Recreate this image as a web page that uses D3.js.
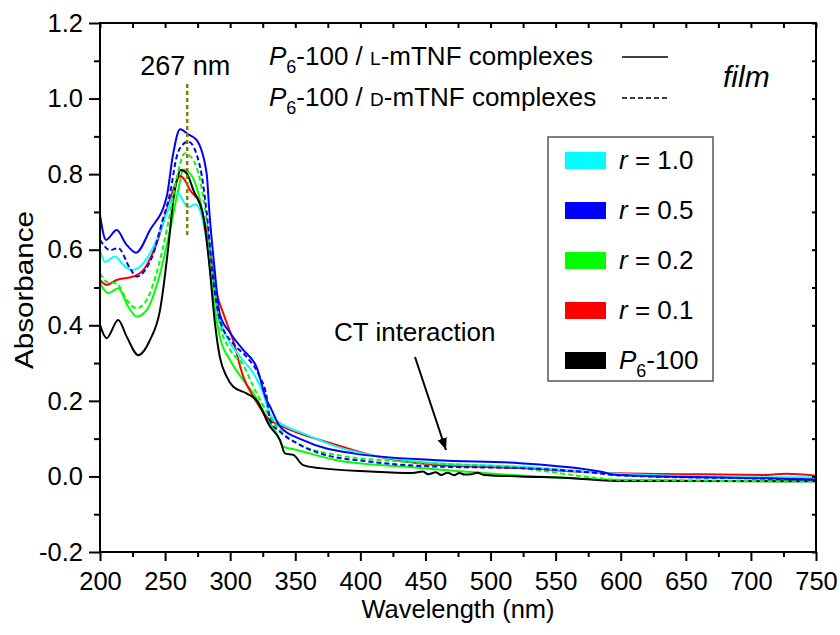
<!DOCTYPE html>
<html>
<head>
<meta charset="utf-8">
<script src="https://cdn.jsdelivr.net/npm/d3@7"></script>
<style>
  body { margin: 0; background: #fff; }
  svg { font-family: 'Liberation Sans', Arial, sans-serif; }
</style>
</head>
<body>
<div id="target"></div>
<script>
const width = 840;
const height = 635;

// data: [wavelength nm, absorbance]
const p6 = [[200,0.401],[205,0.366],[214,0.414],[220.5,0.370],[229.4,0.321],[238.4,0.361],[246.1,0.440],[252.5,0.608],[256.3,0.732],[259.5,0.790],[262,0.811],[266.6,0.802],[271.7,0.758],[279.4,0.687],[284,0.56],[288.3,0.405],[292,0.317],[297.3,0.264],[302.2,0.238],[312.5,0.220],[320.2,0.202],[330.6,0.132],[338.3,0.096],[342.1,0.061],[348.5,0.057],[356,0.030],[369,0.022],[407.5,0.013],[440,0.009],[448,0.013],[452,0.006],[458,0.011],[462,0.004],[467,0.010],[472,0.003],[476,0.009],[480,0.005],[485,0.006],[490,0.010],[495,0.004],[522.6,0.0],[560,-0.004],[597,-0.012],[650,-0.012],[750,-0.013]];
const r01 = [[200,0.520],[205.1,0.507],[212.8,0.520],[225.6,0.529],[233.3,0.546],[243.5,0.617],[253.8,0.732],[258,0.775],[261.5,0.795],[265,0.785],[269.1,0.758],[276.8,0.723],[279.4,0.687],[284,0.608],[289.2,0.493],[295.6,0.423],[302.2,0.361],[310,0.264],[317.8,0.211],[330.6,0.149],[338.3,0.135],[381.7,0.083],[407.5,0.057],[458.6,0.030],[522.6,0.022],[584,0.010],[650,0.006],[712,0.004],[727,0.007],[750,0.002]];
const r02 = [[200,0.511],[206.4,0.485],[214,0.498],[221.7,0.449],[228.2,0.423],[235.8,0.440],[244.8,0.520],[253.8,0.652],[260.2,0.760],[264,0.812],[269.1,0.802],[276.8,0.732],[281.9,0.634],[287,0.476],[292,0.370],[299.9,0.308],[310,0.255],[317.8,0.220],[330.6,0.141],[335.7,0.114],[340.8,0.079],[351.1,0.070],[381.7,0.043],[433,0.026],[507,0.006],[597,-0.009],[712,-0.012],[750,-0.013]];
const r02d = [[200,0.538],[205,0.515],[213,0.510],[220.5,0.467],[228.2,0.445],[235.8,0.467],[244.8,0.555],[253.8,0.696],[258.9,0.790],[265.3,0.855],[271.7,0.837],[276.8,0.785],[281.9,0.679],[287,0.520],[292,0.405],[299.9,0.335],[310,0.295],[317.8,0.238],[330.6,0.158],[338.3,0.123],[351.1,0.088],[381.7,0.057],[433,0.039],[522.6,0.022],[584,-0.005],[597,-0.009],[750,-0.013]];
const r05 = [[200,0.692],[204.6,0.626],[212.8,0.652],[220,0.615],[227.7,0.592],[238.4,0.652],[251.2,0.740],[256,0.850],[261.5,0.919],[268,0.905],[274.3,0.890],[281.9,0.802],[284,0.700],[288,0.550],[292,0.430],[299.9,0.380],[310,0.335],[320.2,0.290],[328,0.202],[330.6,0.185],[338.3,0.132],[356,0.096],[394.6,0.061],[458.6,0.043],[522.6,0.035],[584,0.013],[597,0.004],[712,-0.005],[750,-0.008]];
const r05d = [[200,0.626],[207.7,0.599],[214,0.604],[223,0.551],[228.2,0.529],[234.6,0.546],[241,0.590],[247.4,0.670],[253.8,0.749],[258.9,0.846],[264,0.880],[267.8,0.886],[276.8,0.820],[281.9,0.700],[287,0.520],[292,0.414],[302.2,0.352],[312.5,0.317],[322.7,0.264],[328,0.211],[330.6,0.149],[338.3,0.118],[351.1,0.088],[369,0.061],[407.5,0.039],[458.6,0.026],[522.6,0.022],[584,0.008],[597,0.003],[712,-0.006],[750,-0.009]];
const r10 = [[200,0.599],[203.8,0.568],[211.5,0.582],[217.9,0.560],[224.3,0.546],[233.3,0.564],[243.5,0.626],[251.2,0.696],[256,0.740],[260.5,0.748],[264,0.728],[267.5,0.712],[273,0.720],[276.8,0.705],[281.9,0.626],[287,0.520],[290.9,0.432],[297.3,0.370],[307.5,0.317],[317.8,0.273],[325.4,0.220],[330.6,0.163],[338.3,0.141],[356,0.114],[381.7,0.079],[407.5,0.057],[458.6,0.035],[522.6,0.026],[584,0.010],[712,-0.002],[750,-0.002]];

const xTicks = [200, 250, 300, 350, 400, 450, 500, 550, 600, 650, 700, 750];
const yTicks = [-0.2, 0.0, 0.2, 0.4, 0.6, 0.8, 1.0, 1.2];
const legendLabels = ['1.0', '0.5', '0.2', '0.1'];
const legendColors = ['#00ffff', '#0000ff', '#00ff00', '#ff0000', '#000000'];
const peakNm = 267;

const series = [
  { data: r02, color: '#00ff00', dash: null },
  { data: r01, color: '#ff0000', dash: null },
  { data: r10, color: '#00ffff', dash: null },
  { data: r05, color: '#0000ff', dash: null },
  { data: p6, color: '#000000', dash: null },
  { data: r02d, color: '#00ff00', dash: '5,3' },
  { data: r05d, color: '#0000ff', dash: '5,3' },
];

const svg = d3.select('#target').append('svg').attr('width', width).attr('height', height);

const x = d3.scaleLinear().domain([200, 750]).range([100, 816]);
const y = d3.scaleLinear().domain([-0.2, 1.2]).range([552, 23]);

const line = d3.line()
  .x((d) => x(d[0]))
  .y((d) => y(d[1]))
  .curve(d3.curveMonotoneX);

svg.append('defs').append('clipPath').attr('id', 'clip')
  .append('rect').attr('x', 100).attr('y', 23).attr('width', 716).attr('height', 529);

const plot = svg.append('g').attr('clip-path', 'url(#clip)');

series.forEach((s) => {
  plot.append('path')
    .attr('d', line(s.data))
    .attr('fill', 'none')
    .attr('stroke', s.color)
    .attr('stroke-width', 2)
    .attr('stroke-dasharray', s.dash);
});

// 267 nm marker
svg.append('line')
  .attr('x1', x(peakNm)).attr('x2', x(peakNm))
  .attr('y1', 84).attr('y2', 235)
  .attr('stroke', '#808000')
  .attr('stroke-width', 2.5)
  .attr('stroke-dasharray', '4,3');

svg.append('text')
  .attr('x', x(peakNm) - 2).attr('y', 75)
  .attr('text-anchor', 'middle')
  .attr('font-size', 27)
  .text('267 nm');

// axes
const fmt = (d) => d.toFixed(1);
const minorX = d3.range(225, 750, 50);
const minorY = d3.range(-0.1, 1.2, 0.2);

function styleAxis(g) {
  g.select('.domain').remove();
  g.selectAll('line').attr('stroke', '#000').attr('stroke-width', 2);
  g.selectAll('text').attr('font-size', 25.5).attr('fill', '#000').attr('font-family', "'Liberation Sans', Arial, sans-serif");
}

svg.append('g').attr('transform', 'translate(0,552)')
  .call(d3.axisBottom(x).tickValues(xTicks).tickFormat(d3.format('d')).tickSize(9).tickPadding(11))
  .call(styleAxis);
svg.append('g').attr('transform', 'translate(0,552)')
  .call(d3.axisBottom(x).tickValues(minorX).tickFormat('').tickSize(5))
  .call(styleAxis);
svg.append('g').attr('transform', 'translate(100,0)')
  .call(d3.axisLeft(y).tickValues(yTicks).tickFormat(fmt).tickSize(11).tickPadding(6))
  .call(styleAxis);
svg.append('g').attr('transform', 'translate(100,0)')
  .call(d3.axisLeft(y).tickValues(minorY).tickFormat('').tickSize(6))
  .call(styleAxis);
svg.append('g').attr('transform', 'translate(0,23)')
  .call(d3.axisBottom(x).tickValues(d3.range(200, 751, 25)).tickFormat('').tickSize(5))
  .call(styleAxis);
svg.append('g').attr('transform', 'translate(816,0)')
  .call(d3.axisLeft(y).tickValues(d3.range(-0.2, 1.21, 0.1)).tickFormat('').tickSize(4))
  .call(styleAxis);

svg.append('rect')
  .attr('x', 100).attr('y', 23).attr('width', 716).attr('height', 529)
  .attr('fill', 'none').attr('stroke', '#000').attr('stroke-width', 2);

svg.append('text')
  .attr('x', 458).attr('y', 618)
  .attr('text-anchor', 'middle')
  .attr('font-size', 25.5)
  .text('Wavelength (nm)');

svg.append('text')
  .attr('transform', 'translate(33,290) rotate(-90)')
  .attr('text-anchor', 'middle')
  .attr('font-size', 25.5)
  .attr('textLength', 158)
  .attr('lengthAdjust', 'spacingAndGlyphs')
  .text('Absorbance');

// top legend: line styles
[['L', null, 65], ['D', '5,3', 106]].forEach(([iso, dash, by]) => {
  const t = svg.append('text').attr('x', 269).attr('y', by).attr('font-size', 26);
  t.append('tspan').attr('font-style', 'italic').text('P');
  t.append('tspan').attr('font-size', 18).attr('dy', 8).text('6');
  t.append('tspan').attr('dy', -8).text('-100 / ');
  t.append('tspan').attr('font-size', 19).text(iso);
  t.append('tspan').text('-mTNF complexes');
  svg.append('line')
    .attr('x1', 622).attr('x2', 668)
    .attr('y1', by - 8).attr('y2', by - 8)
    .attr('stroke', '#000').attr('stroke-width', 1.5)
    .attr('stroke-dasharray', dash);
});

svg.append('text')
  .attr('x', 723).attr('y', 87)
  .attr('font-size', 30)
  .attr('font-style', 'italic')
  .text('film');

// colour legend
svg.append('rect')
  .attr('x', 548).attr('y', 137).attr('width', 165).attr('height', 244)
  .attr('fill', '#fff').attr('stroke', '#555').attr('stroke-width', 1.5);

legendColors.forEach((c, i) => {
  const top = 152 + i * 50;
  svg.append('rect')
    .attr('x', 565).attr('y', top).attr('width', 41).attr('height', 17)
    .attr('fill', c);
  const t = svg.append('text').attr('x', 619).attr('y', top + 17).attr('font-size', 26);
  if (i < legendLabels.length) {
    t.append('tspan').attr('font-style', 'italic').text('r');
    t.append('tspan').text(' = ' + legendLabels[i]);
  } else {
    t.append('tspan').attr('font-style', 'italic').text('P');
    t.append('tspan').attr('font-size', 18).attr('dy', 8).text('6');
    t.append('tspan').attr('dy', -8).text('-100');
  }
});

// CT annotation
svg.append('defs').append('marker')
  .attr('id', 'arrow')
  .attr('viewBox', '0 0 10 10')
  .attr('refX', 10).attr('refY', 5)
  .attr('markerWidth', 6).attr('markerHeight', 6)
  .attr('markerUnits', 'strokeWidth')
  .attr('orient', 'auto')
  .append('path').attr('d', 'M0,1 L10,5 L0,9 Z').attr('fill', '#000');

svg.append('text')
  .attr('x', 334).attr('y', 341)
  .attr('font-size', 26)
  .text('CT interaction');

svg.append('line')
  .attr('x1', 415).attr('y1', 357)
  .attr('x2', 446).attr('y2', 450)
  .attr('stroke', '#000').attr('stroke-width', 2)
  .attr('marker-end', 'url(#arrow)');
</script>
</body>
</html>
